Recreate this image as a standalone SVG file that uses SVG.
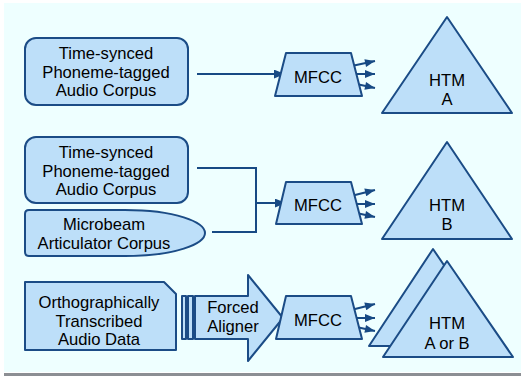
<svg xmlns="http://www.w3.org/2000/svg" width="521" height="377" viewBox="0 0 521 377">
<defs>
<style>
.sh{fill:#bddff9;stroke:#1b4c86;stroke-width:2;stroke-linejoin:round}
.ln{fill:none;stroke:#174a84;stroke-width:2}
.t{font-family:"Liberation Sans",Arial,sans-serif;font-size:16.6px;fill:#000;text-anchor:middle}
</style>
<marker id="ah" viewBox="0 0 10 8" refX="10" refY="4" markerWidth="11" markerHeight="9" markerUnits="userSpaceOnUse" orient="auto">
<path d="M0,0 L10,4 L0,8 Z" fill="#174a84"/>
</marker>
<marker id="as" viewBox="0 0 10 8" refX="10" refY="4" markerWidth="11" markerHeight="8" markerUnits="userSpaceOnUse" orient="auto">
<path d="M0,0 L10,4 L0,8 Z" fill="#174a84"/>
</marker>
</defs>
<rect x="0" y="0" width="521" height="377" fill="#ffffff"/>
<rect x="4" y="3" width="517" height="369" fill="#eeffff"/>
<rect x="4" y="373" width="517" height="3" fill="#8c8f94"/>

<g id="connectors">
<line class="ln" x1="197" y1="74" x2="285" y2="74" marker-end="url(#ah)"/>
<path class="ln" d="M197,168 H256 V232 H212"/>
<line class="ln" x1="256" y1="203" x2="286" y2="203" marker-end="url(#ah)"/>
<line class="ln" x1="347" y1="67" x2="375" y2="61" marker-end="url(#as)"/>
<line class="ln" x1="347" y1="74" x2="375" y2="74" marker-end="url(#as)"/>
<line class="ln" x1="347" y1="82" x2="375" y2="88" marker-end="url(#as)"/>
<line class="ln" x1="347" y1="197" x2="375" y2="190" marker-end="url(#as)"/>
<line class="ln" x1="347" y1="204" x2="375" y2="204" marker-end="url(#as)"/>
<line class="ln" x1="347" y1="211" x2="375" y2="217" marker-end="url(#as)"/>
<line class="ln" x1="347" y1="311" x2="375" y2="304" marker-end="url(#as)"/>
<line class="ln" x1="347" y1="318" x2="375" y2="318" marker-end="url(#as)"/>
<line class="ln" x1="347" y1="325" x2="375" y2="331" marker-end="url(#as)"/>
</g>

<g id="corpusA">
<rect class="sh" x="25" y="38" width="163" height="67" rx="11"/>
<text class="t" x="106" y="59">Time-synced</text>
<text class="t" x="106" y="77.5">Phoneme-tagged</text>
<text class="t" x="106" y="96">Audio Corpus</text>
</g>
<g id="mfccA">
<path class="sh" d="M286,53 H351 L362,96 H275 Z"/>
<text class="t" x="318" y="83">MFCC</text>
</g>
<g id="htmA">
<path class="sh" d="M447,17 L512,113 H382 Z"/>
<text class="t" x="447" y="86">HTM</text>
<text class="t" x="447" y="105">A</text>
</g>

<g id="corpusB">
<rect class="sh" x="25" y="137" width="163" height="66" rx="11"/>
<text class="t" x="106" y="158">Time-synced</text>
<text class="t" x="106" y="176.5">Phoneme-tagged</text>
<text class="t" x="106" y="195">Audio Corpus</text>
</g>
<g id="microbeam">
<path class="sh" d="M29,210 H125 C175,210 205,222 205,233 C205,244 175,256 125,256 H29 Q25,256 25,252 V214 Q25,210 29,210 Z"/>
<text class="t" x="104" y="230">Microbeam</text>
<text class="t" x="104" y="248.5">Articulator Corpus</text>
</g>
<g id="mfccB">
<path class="sh" d="M286,182 H351 L362,224 H276 Z"/>
<text class="t" x="318" y="211">MFCC</text>
</g>
<g id="htmB">
<path class="sh" d="M447,142 L512,239 H382 Z"/>
<text class="t" x="447" y="211">HTM</text>
<text class="t" x="447" y="230">B</text>
</g>

<g id="ortho">
<path class="sh" d="M25,282 H164 L176,294 V350 H25 Z"/>
<text class="t" x="99" y="308">Orthographically</text>
<text class="t" x="99" y="326.5">Transcribed</text>
<text class="t" x="99" y="345">Audio Data</text>
</g>
<g id="aligner">
<rect class="sh" x="182" y="296" width="4" height="43"/>
<rect class="sh" x="188" y="296" width="5" height="43"/>
<path class="sh" d="M195,296 H248 V275 L283,318 L248,361 V339 H195 Z"/>
<text class="t" x="233" y="313">Forced</text>
<text class="t" x="233" y="332">Aligner</text>
</g>
<g id="mfccC">
<path class="sh" d="M286,296 H351 L362,339 H276 Z"/>
<text class="t" x="318" y="326">MFCC</text>
</g>
<g id="htmC">
<path class="sh" d="M433,249 L499,346 H369 Z"/>
<path class="sh" d="M447,261 L513,357 H383 Z"/>
<text class="t" x="447" y="329">HTM</text>
<text class="t" x="447" y="349">A or B</text>
</g>
</svg>
